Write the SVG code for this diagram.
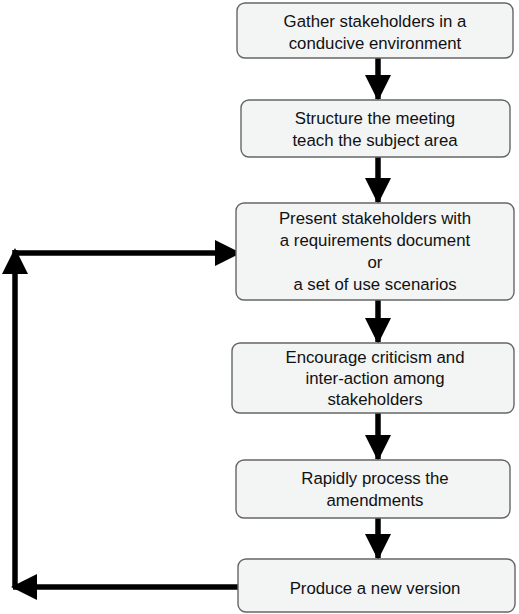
<svg xmlns="http://www.w3.org/2000/svg" width="519" height="614" viewBox="0 0 519 614">
<style>
.box{fill:#f3f4f4;stroke:#666;stroke-width:1.4}
.t{font-family:"Liberation Sans",Arial,sans-serif;font-size:16.8px;fill:#111;text-anchor:middle}
.c{fill:none;stroke:#000;stroke-width:5.5}
</style>
<defs>
<marker id="ah" markerUnits="userSpaceOnUse" markerWidth="26" markerHeight="26" viewBox="0 0 26 26" refX="24" refY="13" orient="auto">
<path d="M0,0 L26,13 L0,26 Z" fill="#000"/>
</marker>
</defs>
<rect width="519" height="614" fill="#fff"/>
<g id="connectors">
<path class="c" d="M378,58 V99" marker-end="url(#ah)"/>
<path class="c" d="M378,157 V202" marker-end="url(#ah)"/>
<path class="c" d="M378,300 V342" marker-end="url(#ah)"/>
<path class="c" d="M378,413 V459" marker-end="url(#ah)"/>
<path class="c" d="M378,518 V558" marker-end="url(#ah)"/>
<path class="c" d="M238,587 H13" marker-end="url(#ah)"/>
<path class="c" d="M15,587 V250" marker-end="url(#ah)"/>
<path class="c" d="M13,253 H239" marker-end="url(#ah)"/>
</g>
<g id="n1"><rect class="box" x="237" y="3" width="276" height="55" rx="8"/>
<text class="t" x="375" y="27">Gather stakeholders in a</text>
<text class="t" x="375" y="49">conducive environment</text></g>
<g id="n2"><rect class="box" x="241" y="100" width="269" height="57" rx="8"/>
<text class="t" x="375" y="124">Structure the meeting</text>
<text class="t" x="375" y="146">teach the subject area</text></g>
<g id="n3"><rect class="box" x="236" y="203" width="278" height="97" rx="8"/>
<text class="t" x="375" y="224">Present stakeholders with</text>
<text class="t" x="375" y="246">a requirements document</text>
<text class="t" x="375" y="268">or</text>
<text class="t" x="375" y="290">a set of use scenarios</text></g>
<g id="n4"><rect class="box" x="232" y="343" width="282" height="70" rx="8"/>
<text class="t" x="375" y="363">Encourage criticism and</text>
<text class="t" x="375" y="384">inter-action among</text>
<text class="t" x="375" y="405">stakeholders</text></g>
<g id="n5"><rect class="box" x="236" y="460" width="274" height="58" rx="8"/>
<text class="t" x="375" y="484">Rapidly process the</text>
<text class="t" x="375" y="506">amendments</text></g>
<g id="n6"><rect class="box" x="238" y="559" width="277" height="53" rx="8"/>
<text class="t" x="375" y="594">Produce a new version</text></g>
</svg>
